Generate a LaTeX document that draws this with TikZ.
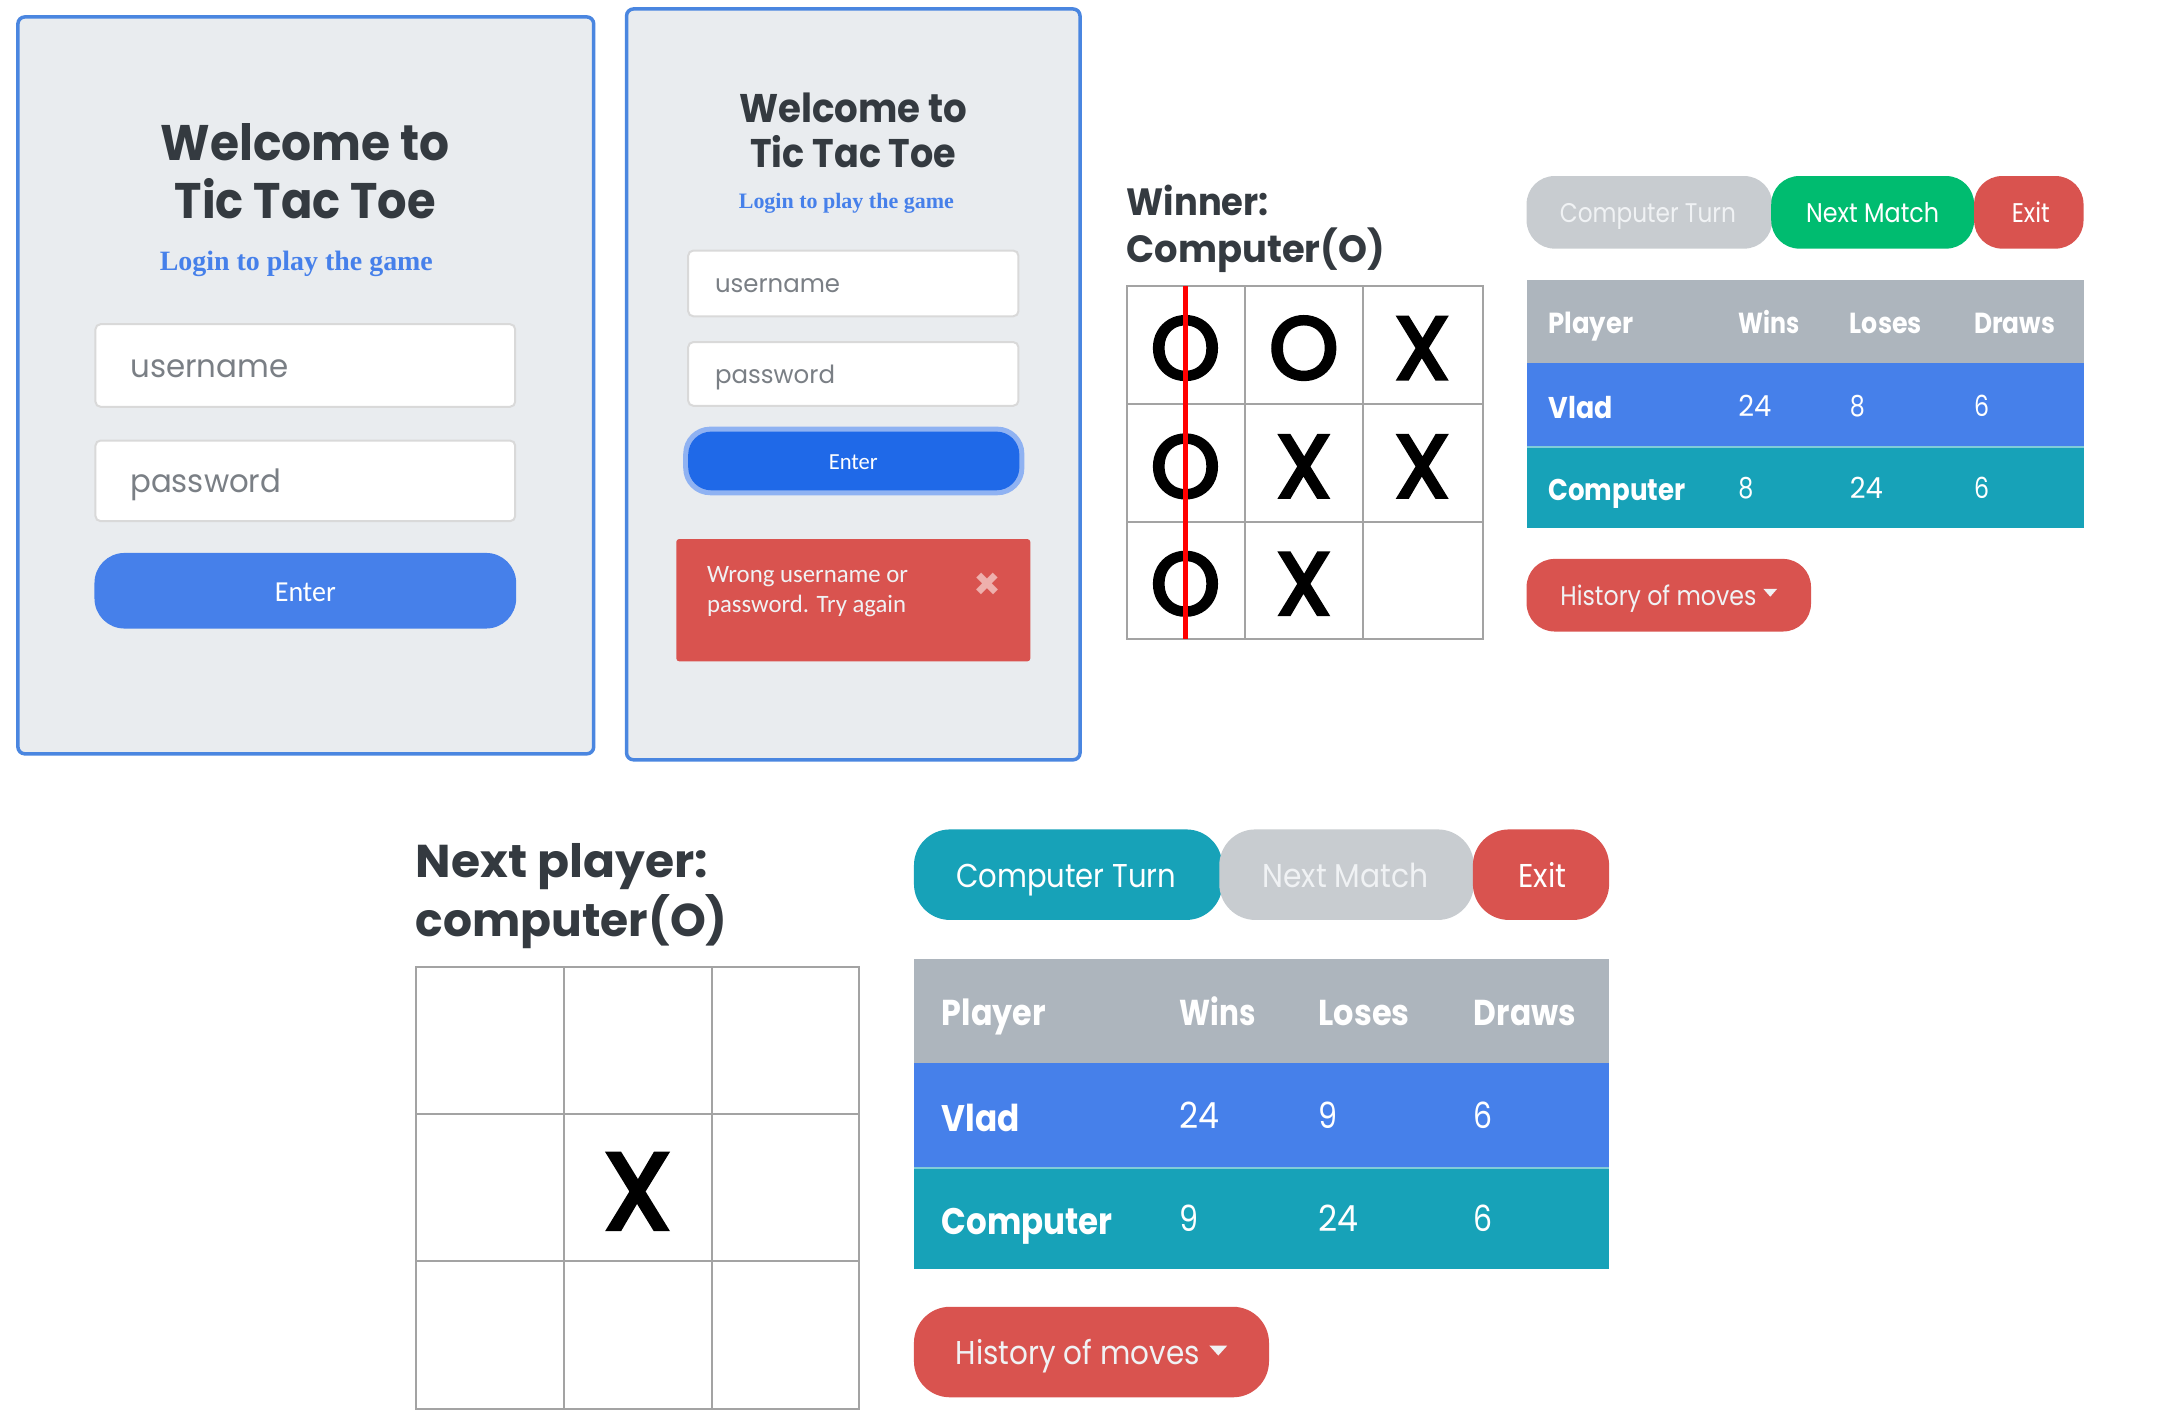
\documentclass[tikz,border=0pt]{standalone}
\usepackage{fontspec}
\usepackage{graphicx}
\usetikzlibrary{calc}
\setmainfont{Poppins}
\newfontfamily\hdf{Poppins}
\newfontfamily\xof[FakeBold=4]{Poppins}
\newcommand\hd{\hdf\bfseries}
\newfontfamily\serff{Liberation Serif}
\newcommand\serf{\serff\bfseries}
\newfontfamily\calf{Carlito}
\newcommand\fw[4]{{#1\fontsize{#3}{#3}\selectfont\resizebox{#2pt}{\height}{#4}}}
\definecolor{pblue}{HTML}{4680EA}
\definecolor{pborder}{HTML}{4A86E0}
\definecolor{panel}{HTML}{E9ECEF}
\definecolor{dark}{HTML}{343A40}
\definecolor{ph}{HTML}{7A7F85}
\definecolor{red1}{HTML}{D9534F}
\definecolor{grey1}{HTML}{C8CCD0}
\definecolor{green1}{HTML}{00BC70}
\definecolor{teal1}{HTML}{17A2B8}
\definecolor{thead}{HTML}{ADB5BD}
\definecolor{gridc}{HTML}{A3A3A3}
\definecolor{btxt}{HTML}{F0F2F4}
\definecolor{halo}{HTML}{8FB2F2}
\definecolor{focus}{HTML}{1F69E8}
\definecolor{xcol}{HTML}{EEB0AD}
\tikzset{
  x=0.9945pt,y=-0.9945pt,
  lbl/.style={inner sep=0pt,outer sep=0pt,anchor=base west},
  ctr/.style={inner sep=0pt,outer sep=0pt,anchor=base},
  mid/.style={inner sep=0pt,outer sep=0pt,anchor=center},
  panelbox/.style={fill=panel,draw=pborder,line width=3.5pt,rounded corners=7pt},
  inputbox/.style={fill=white,draw=black!15,line width=2pt,rounded corners=5pt},
  gridline/.style={draw=gridc,line width=2pt},
  wintitle/.style={ctr,text=dark},
  sub/.style={ctr,text=pblue},
}
\begin{document}
\begin{tikzpicture}
\useasboundingbox (0,0) rectangle (2168.9,1428.9);
% ---- panel 1
\path[panelbox] (18,17) rectangle (597,758);
\node[wintitle] (t1a) at (307,161) {\fw{\hd}{289}{50}{Welcome to}};
\node[wintitle] (t1b) at (307,220) {\fw{\hd}{261}{50}{Tic Tac Toe}};
\node[sub] (s1) at (298,272) {\fw{\serf}{273}{28}{Login to play the game}};
\path[inputbox] (96,326) rectangle (518,409);
\path[inputbox] (96,443) rectangle (518,524);
\node[lbl,text=ph] (u1) at (131,380) {\fw{}{158}{32}{username}};
\node[lbl,text=ph] (p1) at (131,495) {\fw{}{151}{32}{password}};
\fill[pblue,rounded corners=30pt] (95,556) rectangle (519,632);
\node[ctr,text=white] (e1) at (307,605) {\fw{\calf}{61}{29}{Enter}};
% ---- panel 2
\path[panelbox] (630,9) rectangle (1086,764);
\node[wintitle] (t2a) at (858,123) {\fw{\hd}{228}{40}{Welcome to}};
\node[wintitle] (t2b) at (858,168) {\fw{\hd}{206}{40}{Tic Tac Toe}};
\node[sub] (s2) at (851,210) {\fw{\serf}{215}{22}{Login to play the game}};
\path[inputbox] (692,252) rectangle (1024,318);
\path[inputbox] (692,344) rectangle (1024,408);
\node[lbl,text=ph] (u2) at (719,294) {\fw{}{125}{25}{username}};
\node[lbl,text=ph] (p2) at (719,386) {\fw{}{120}{25}{password}};
\fill[halo,rounded corners=27pt] (687,429) rectangle (1030,498);
\fill[focus,rounded corners=23pt] (692,434) rectangle (1025,493);
\node[ctr,text=white] (e2) at (858,472) {\fw{\calf}{49}{23}{Enter}};
\fill[red1,rounded corners=3pt] (680,542) rectangle (1036,665);
\node[lbl,text=btxt] (a1) at (711,586) {\fw{\calf}{201}{25}{Wrong username or}};
\node[lbl,text=btxt] (a2) at (711,616) {\fw{\calf}{199}{25}{password. Try again}};
\node[mid,text=xcol] (ax) at (993,590) {\fw{\hd}{28}{44}{×}};
% ---- winner
\node[lbl,text=dark] (w1) at (1133,217) {\fw{\hd}{142}{38}{Winner:}};
\node[lbl,text=dark] (w2) at (1133,264) {\fw{\hd}{258}{38}{Computer(O)}};
\draw[gridline] (1133,288) rectangle (1491,643);
\foreach \xx in {1252,1371} \draw[gridline] (\xx,288) -- (\xx,643);
\foreach \yy in {406,525} \draw[gridline] (1133,\yy) -- (1491,\yy);
\foreach \nm/\xx/\yy/\tx in {a/1192/350/O,b/1311/350/O,c/1430/350/X,d/1192/469/O,e/1311/469/X,f/1430/469/X,g/1192/587/O,h/1311/587/X}
  \node[mid,text=black] (cell\nm) at (\xx,\yy) {\fontsize{88}{88}\xof\selectfont\tx};
\fill[red] (1189.5,288) rectangle (1194.5,643);
% ---- top buttons
\fill[grey1,rounded corners=28pt] (1535,177) rectangle (1782,250);
\fill[green1,rounded corners=28pt] (1781,177) rectangle (1985,250);
\fill[red1,rounded corners=28pt] (1985,177) rectangle (2095,250);
\node[ctr,text=btxt] (b1) at (1657,224) {\fw{}{176}{27}{Computer Turn}};
\node[ctr,text=white] (b2) at (1883,224) {\fw{}{133}{27}{Next Match}};
\node[ctr,text=white] (b3) at (2042,224) {\fw{}{38}{27}{Exit}};
% ---- top table
\fill[thead] (1535,282) rectangle (2095,365);
\fill[pblue] (1535,365) rectangle (2095,448);
\fill[teal1] (1535,450) rectangle (2095,531);
\draw[teal1!55!white,line width=2pt] (1535,449) -- (2095,449);
\node[lbl,text=white] (h1) at (1557,335) {\fw{\hd}{85}{29}{Player}};
\node[lbl,text=white] (h2) at (1748,335) {\fw{\hd}{61}{29}{Wins}};
\node[lbl,text=white] (h3) at (1860,335) {\fw{\hd}{72}{29}{Loses}};
\node[lbl,text=white] (h4) at (1985,335) {\fw{\hd}{81}{29}{Draws}};
\node[lbl,text=white] (r1) at (1557,421) {\fw{\hd}{64}{30}{Vlad}};
\node[lbl,text=white] (r2) at (1748,419) {\fw{}{33}{29}{24}};
\node[lbl,text=white] (r3) at (1860,419) {\fw{}{15}{29}{8}};
\node[lbl,text=white] (r4) at (1985,419) {\fw{}{15}{29}{6}};
\node[lbl,text=white] (q1) at (1557,503) {\fw{\hd}{137}{30}{Computer}};
\node[lbl,text=white] (q2) at (1748,501) {\fw{}{15}{29}{8}};
\node[lbl,text=white] (q3) at (1860,501) {\fw{}{33}{29}{24}};
\node[lbl,text=white] (q4) at (1985,501) {\fw{}{15}{29}{6}};
\fill[red1,rounded corners=28pt] (1535,562) rectangle (1821,635);
\node[lbl,text=btxt] (hm1) at (1569,609) {\fw{}{196}{27}{History of moves}};
\coordinate (c1) at (1780,596);
\fill[btxt] ($(c1)+(-7,-4)$) -- ($(c1)+(7,-4)$) -- ($(c1)+(0,4)$) -- cycle;
% ---- next player
\node[lbl,text=dark] (n1) at (418,882) {\fw{\hd}{292}{46}{Next player:}};
\node[lbl,text=dark] (n2) at (418,942) {\fw{\hd}{312}{46}{computer(O)}};
\draw[gridline] (418,972) rectangle (864,1417);
\foreach \xx in {567,716} \draw[gridline] (\xx,972) -- (\xx,1417);
\foreach \yy in {1120,1268} \draw[gridline] (418,\yy) -- (864,\yy);
\node[mid,text=black] (xc) at (641,1198) {\fontsize{108}{108}\xof\selectfont X};
% ---- lower buttons
\fill[teal1,rounded corners=36pt] (919,834) rectangle (1229,925);
\fill[grey1,rounded corners=36pt] (1226,834) rectangle (1482,925);
\fill[red1,rounded corners=36pt] (1481,834) rectangle (1618,925);
\node[ctr,text=white] (b4) at (1072,892) {\fw{}{220}{33}{Computer Turn}};
\node[ctr,text=btxt] (b5) at (1353,892) {\fw{}{166}{33}{Next Match}};
\node[ctr,text=white] (b6) at (1551,892) {\fw{}{48}{33}{Exit}};
% ---- lower table
\fill[thead] (919,964) rectangle (1618,1069);
\fill[pblue] (919,1069) rectangle (1618,1173);
\fill[teal1] (919,1175) rectangle (1618,1276);
\draw[teal1!55!white,line width=2pt] (919,1174) -- (1618,1174);
\node[lbl,text=white] (h5) at (947,1031) {\fw{\hd}{104}{36}{Player}};
\node[lbl,text=white] (h6) at (1186,1031) {\fw{\hd}{76}{36}{Wins}};
\node[lbl,text=white] (h7) at (1326,1031) {\fw{\hd}{91}{36}{Loses}};
\node[lbl,text=white] (h8) at (1482,1031) {\fw{\hd}{102}{36}{Draws}};
\node[lbl,text=white] (r5) at (947,1138) {\fw{\hd}{78}{37}{Vlad}};
\node[lbl,text=white] (r6) at (1186,1135) {\fw{}{40}{36}{24}};
\node[lbl,text=white] (r7) at (1326,1135) {\fw{}{19}{36}{9}};
\node[lbl,text=white] (r8) at (1482,1135) {\fw{}{19}{36}{6}};
\node[lbl,text=white] (q5) at (947,1241) {\fw{\hd}{171}{37}{Computer}};
\node[lbl,text=white] (q6) at (1186,1238) {\fw{}{19}{36}{9}};
\node[lbl,text=white] (q7) at (1326,1238) {\fw{}{40}{36}{24}};
\node[lbl,text=white] (q8) at (1482,1238) {\fw{}{19}{36}{6}};
\fill[red1,rounded corners=36pt] (919,1314) rectangle (1276,1405);
\node[lbl,text=btxt] (hm2) at (961,1372) {\fw{}{244}{33}{History of moves}};
\coordinate (c2) at (1225,1358);
\fill[btxt] ($(c2)+(-9,-5)$) -- ($(c2)+(9,-5)$) -- ($(c2)+(0,5)$) -- cycle;
\end{tikzpicture}
\end{document}
